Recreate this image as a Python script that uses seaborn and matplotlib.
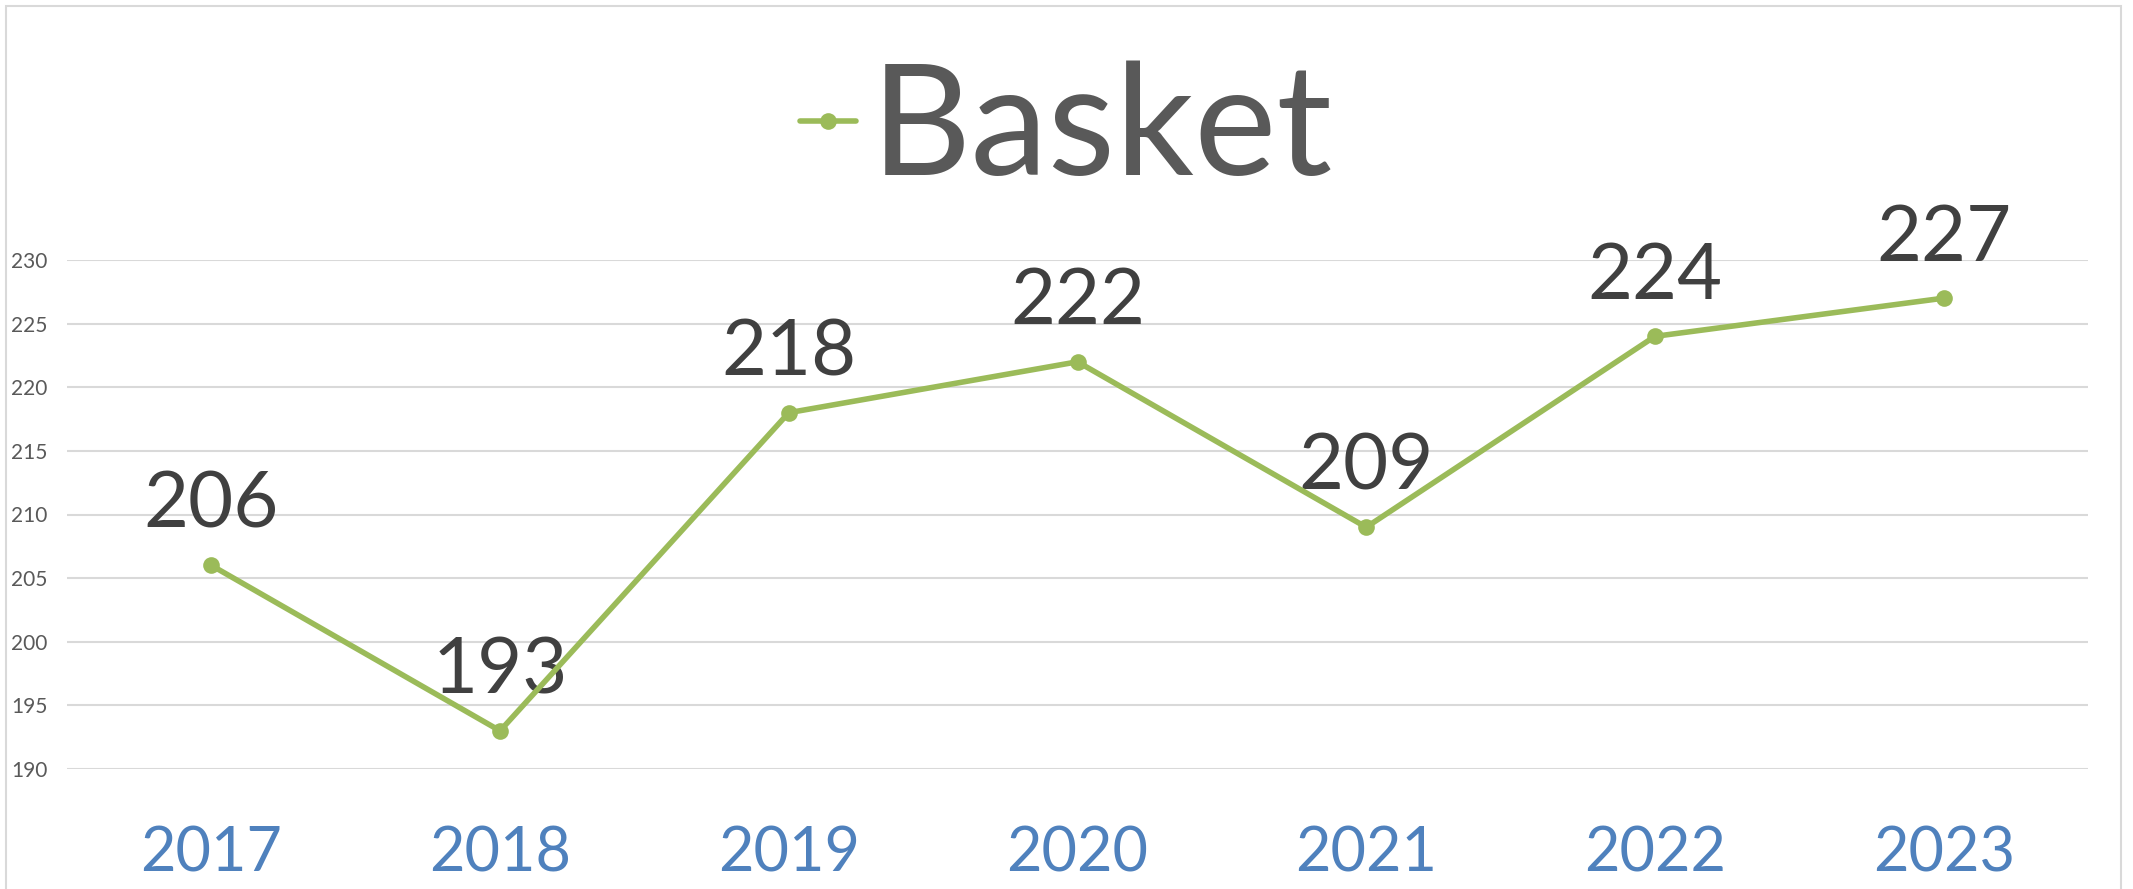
import matplotlib
matplotlib.use("Agg")
import matplotlib.pyplot as plt
import seaborn as sns
import pandas as pd
from matplotlib.patches import Rectangle

years = ["2017", "2018", "2019", "2020", "2021", "2022", "2023"]
basket = [206, 193, 218, 222, 209, 224, 227]
series_name = "Basket"
y_ticks = [190, 195, 200, 205, 210, 215, 220, 225, 230]

sns.set_theme(style="white")
plt.rcParams["font.family"] = ["Lato", "DejaVu Sans"]

df = pd.DataFrame({"year": years, "value": basket})

fig = plt.figure(figsize=(21.33, 8.89), dpi=100)
ax = fig.add_axes([67 / 2133, 1 - 769 / 889, (2088 - 67) / 2133, (769 - 260) / 889])

green = "#9BBB59"
sns.lineplot(data=df, x="year", y="value", ax=ax, color=green, linewidth=4.0,
             marker="o", markersize=12, markeredgewidth=0, label=series_name,
             sort=False, zorder=4)

ax.set_xlim(-0.5, len(years) - 0.5)
ax.set_ylim(190, 230)
ax.set_yticks(y_ticks)
ax.yaxis.grid(True, color="#D9D9D9", linewidth=1.5)
ax.set_axisbelow(True)
for s in ax.spines.values():
    s.set_visible(False)
ax.set_xlabel("")
ax.set_ylabel("")
ax.tick_params(axis="y", length=0, pad=0, labelsize=15, labelcolor="#595959")
ax.tick_params(axis="x", length=0, pad=41, labelsize=44, labelcolor="#4F81BD")
for lbl in ax.get_yticklabels():
    lbl.set_horizontalalignment("left")
    lbl.set_x(-56 / 2021)

for i, v in enumerate(basket):
    ax.annotate(str(v), (i, v), xytext=(0, 27), textcoords="offset points",
                ha="center", va="baseline", fontsize=56, color="#404040",
                annotation_clip=False, zorder=3)

ax.get_legend().remove()
handles, labels = ax.get_legend_handles_labels()
leg = fig.legend(handles, labels, loc="center", bbox_to_anchor=(0.5, 0.852),
                 frameon=False, fontsize=112, handlelength=0.36, handletextpad=0.1,
                 borderpad=0)
for t in leg.get_texts():
    t.set_color("#595959")

fig.patches.append(Rectangle((6 / 2133, -0.05), (2121 - 6) / 2133, 1 - 6 / 889 + 0.05,
                             transform=fig.transFigure, fill=False,
                             edgecolor="#D9D9D9", linewidth=1.5))

fig.savefig("out.png", dpi=100, facecolor="white")
